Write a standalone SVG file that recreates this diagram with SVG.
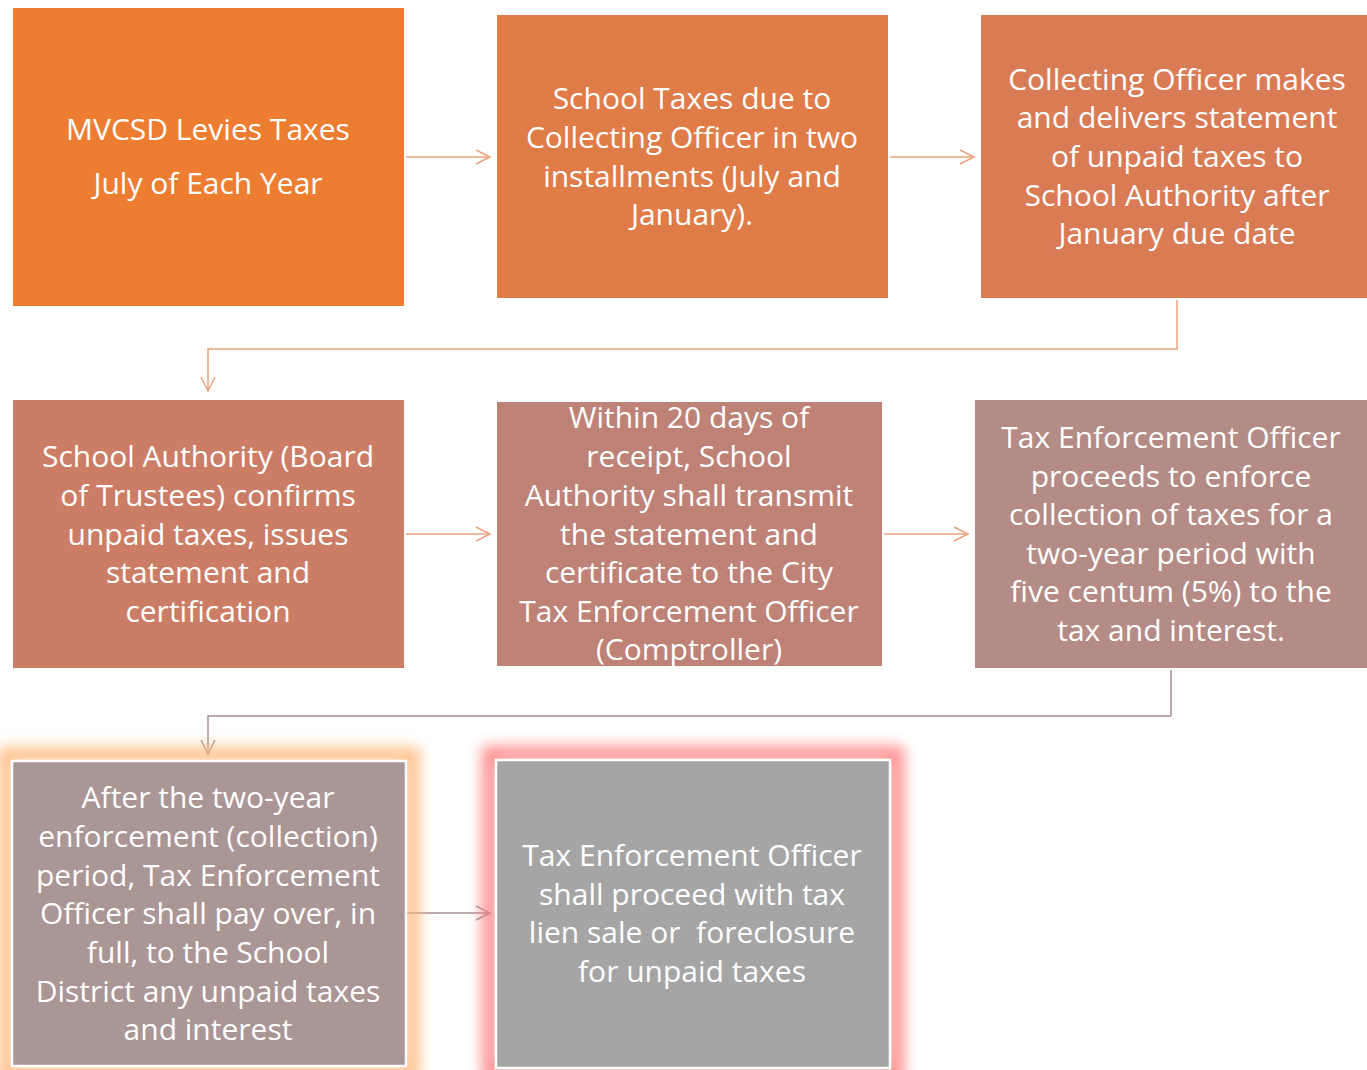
<svg xmlns="http://www.w3.org/2000/svg" width="1367" height="1070" viewBox="0 0 1367 1070">
<style>
.t{font-family:"Open Sans","Noto Sans",sans-serif;font-size:30px;fill:#fff;text-anchor:middle}
.c{fill:none;stroke:#EDA27A;stroke-width:1.5}
.g{fill:none;stroke:#A89090;stroke-width:1.5}
</style>
<defs>
<marker id="a" markerWidth="18" markerHeight="18" refX="16" refY="9" orient="auto" markerUnits="userSpaceOnUse">
<path d="M2,2 L16,9 L2,16" fill="none" stroke="#EDA27A" stroke-width="1.5"/>
</marker>
<marker id="ag" markerWidth="18" markerHeight="18" refX="16" refY="9" orient="auto" markerUnits="userSpaceOnUse">
<path d="M2,2 L16,9 L2,16" fill="none" stroke="#A89090" stroke-width="1.5"/>
</marker>
<filter id="blur" x="-20%" y="-20%" width="140%" height="140%"><feGaussianBlur stdDeviation="7"/></filter>
</defs>
<rect width="1367" height="1070" fill="#fff"/>
<g id="connectors">
<path class="c" d="M406,157 H490" marker-end="url(#a)"/>
<path class="c" d="M890,157 H974" marker-end="url(#a)"/>
<path class="c" d="M1177,300 V349 H208 V391" marker-end="url(#a)"/>
<path class="c" d="M406,534 H490" marker-end="url(#a)"/>
<path class="c" d="M884,534 H968" marker-end="url(#a)"/>
<path class="g" d="M1171,670 V716 H208 V754" marker-end="url(#ag)"/>
<path class="g" d="M406,913 H490" marker-end="url(#ag)"/>
</g>
<g id="n1">
<rect x="13" y="8" width="391" height="298" fill="#ED7D31"/>
<text class="t"><tspan x="208" y="140">MVCSD Levies Taxes</tspan><tspan x="208" y="194">July of Each Year</tspan></text>
</g>
<g id="n2">
<rect x="497" y="15" width="391" height="283" fill="#DF7C48"/>
<text class="t"><tspan x="692" y="109">School Taxes due to</tspan><tspan x="692" y="148">Collecting Officer in two</tspan><tspan x="692" y="187">installments (July and</tspan><tspan x="692" y="225">January).</tspan></text>
</g>
<g id="n3">
<rect x="981" y="15" width="386" height="283" fill="#D97C56"/>
<text class="t"><tspan x="1177" y="90">Collecting Officer makes</tspan><tspan x="1177" y="128">and delivers statement</tspan><tspan x="1177" y="167">of unpaid taxes to</tspan><tspan x="1177" y="206">School Authority after</tspan><tspan x="1177" y="244">January due date</tspan></text>
</g>
<g id="n4">
<rect x="13" y="400" width="391" height="268" fill="#CC7D66"/>
<text class="t"><tspan x="208" y="467">School Authority (Board</tspan><tspan x="208" y="506">of Trustees) confirms</tspan><tspan x="208" y="545">unpaid taxes, issues</tspan><tspan x="208" y="583">statement and</tspan><tspan x="208" y="622">certification</tspan></text>
</g>
<g id="n5">
<rect x="497" y="402" width="385" height="264" fill="#BF8277"/>
<text class="t"><tspan x="689" y="428">Within 20 days of</tspan><tspan x="689" y="467">receipt, School</tspan><tspan x="689" y="506">Authority shall transmit</tspan><tspan x="689" y="545">the statement and</tspan><tspan x="689" y="583">certificate to the City</tspan><tspan x="689" y="622">Tax Enforcement Officer</tspan><tspan x="689" y="660">(Comptroller)</tspan></text>
</g>
<g id="n6">
<rect x="975" y="400" width="392" height="268" fill="#B58B86"/>
<text class="t"><tspan x="1171" y="448">Tax Enforcement Officer</tspan><tspan x="1171" y="487">proceeds to enforce</tspan><tspan x="1171" y="525">collection of taxes for a</tspan><tspan x="1171" y="564">two-year period with</tspan><tspan x="1171" y="602">five centum (5%) to the</tspan><tspan x="1171" y="641">tax and interest.</tspan></text>
</g>
<g id="n7">
<rect x="6" y="755" width="406" height="318" fill="none" stroke="#FFB77A" stroke-width="16" filter="url(#blur)" opacity="0.85"/>
<rect x="12" y="761" width="394" height="305" fill="#AA9695" stroke="#fff" stroke-width="2.5"/>
<text class="t"><tspan x="208" y="808">After the two-year</tspan><tspan x="208" y="847">enforcement (collection)</tspan><tspan x="208" y="886">period, Tax Enforcement</tspan><tspan x="208" y="924">Officer shall pay over, in</tspan><tspan x="208" y="963">full, to the School</tspan><tspan x="208" y="1002">District any unpaid taxes</tspan><tspan x="208" y="1040">and interest</tspan></text>
</g>
<g id="n8">
<rect x="490" y="754" width="406" height="320" fill="none" stroke="#FF7E7E" stroke-width="16" filter="url(#blur)" opacity="0.85"/>
<rect x="496" y="760" width="394" height="308" fill="#A5A5A5" stroke="#fff" stroke-width="2.5"/>
<text class="t"><tspan x="692" y="866">Tax Enforcement Officer</tspan><tspan x="692" y="905">shall proceed with tax</tspan><tspan x="692" y="943">lien sale or&#160; foreclosure</tspan><tspan x="692" y="982">for unpaid taxes</tspan></text>
</g>
</svg>
